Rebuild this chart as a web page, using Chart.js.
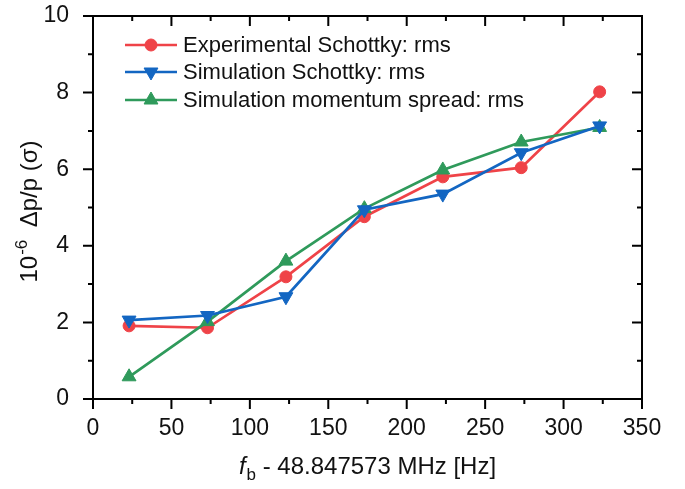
<!DOCTYPE html>
<html>
<head>
<meta charset="utf-8">
<script src="https://cdn.jsdelivr.net/npm/chart.js@4.4.1/dist/chart.umd.min.js"></script>
<style>
  html, body { margin: 0; padding: 0; background: #fff; }
  #wrap { width: 685px; height: 489px; }
</style>
</head>
<body>
<div id="wrap"><canvas id="chart"></canvas></div>
<script>
// frequency offset (Hz)
const freq = [23, 73, 123, 173, 223, 273, 323];
// 10^-6 dp/p, rms
const expSchottky = [1.91, 1.86, 3.19, 4.76, 5.80, 6.04, 8.02];
const simSchottky = [2.06, 2.18, 2.67, 4.94, 5.35, 6.43, 7.13];
const simMomentum = [0.58, 2.02, 3.60, 4.97, 5.98, 6.71, 7.09];

const seriesNames = [
    'Experimental Schottky: rms',
    'Simulation Schottky: rms',
    'Simulation momentum spread: rms'
];
const xTicks = [0, 50, 100, 150, 200, 250, 300, 350];
const yTicks = [0, 2, 4, 6, 8, 10];

const FONT = '"Liberation Sans", Arial, sans-serif';
const RED = '#ef4348';
const BLUE = '#1366c2';
const GREEN = '#2f9a5b';

function pts(ys) {
    return freq.map((x, i) => ({ x: x, y: ys[i] }));
}

// box, ticks (major + minor), axis titles and legend
const framePlugin = {
    id: 'frame',
    afterDraw(chart) {
        const ctx = chart.ctx;
        const a = chart.chartArea;
        const xs = chart.scales.x;
        const ys = chart.scales.y;
        ctx.save();
        ctx.strokeStyle = '#000';
        ctx.lineWidth = 2;
        ctx.strokeRect(a.left, a.top, a.right - a.left, a.bottom - a.top);

        ctx.beginPath();
        for (let i = 0; i < xTicks.length; i++) {
            const px = xs.getPixelForValue(xTicks[i]);
            ctx.moveTo(px, a.bottom); ctx.lineTo(px, a.bottom + 10);
            ctx.moveTo(px, a.top); ctx.lineTo(px, a.top + 10);
            if (i < xTicks.length - 1) {
                const mx = xs.getPixelForValue((xTicks[i] + xTicks[i + 1]) / 2);
                ctx.moveTo(mx, a.bottom); ctx.lineTo(mx, a.bottom + 5);
                ctx.moveTo(mx, a.top); ctx.lineTo(mx, a.top + 5);
            }
        }
        for (let i = 0; i < yTicks.length; i++) {
            const py = ys.getPixelForValue(yTicks[i]);
            ctx.moveTo(a.left, py); ctx.lineTo(a.left - 10, py);
            ctx.moveTo(a.right, py); ctx.lineTo(a.right - 10, py);
            if (i < yTicks.length - 1) {
                const my = ys.getPixelForValue((yTicks[i] + yTicks[i + 1]) / 2);
                ctx.moveTo(a.left, my); ctx.lineTo(a.left - 5, my);
                ctx.moveTo(a.right, my); ctx.lineTo(a.right - 5, my);
            }
        }
        ctx.stroke();

        // x title: f_b - 48.847573 MHz [Hz]
        ctx.fillStyle = '#111';
        ctx.textBaseline = 'alphabetic';
        const fItal = 'italic 24px ' + FONT;
        const fNorm = '24px ' + FONT;
        const fSmall = '17px ' + FONT;
        const rest = ' - 48.847573 MHz [Hz]';
        ctx.font = fItal; const wf = ctx.measureText('f').width;
        ctx.font = fSmall; const wb = ctx.measureText('b').width;
        ctx.font = fNorm; const wr = ctx.measureText(rest).width;
        let x0 = (a.left + a.right) / 2 - (wf + wb + 1 + wr) / 2;
        const by = 474;
        ctx.textAlign = 'left';
        ctx.font = fItal; ctx.fillText('f', x0, by);
        ctx.font = fSmall; ctx.fillText('b', x0 + wf + 1, by + 6);
        ctx.font = fNorm; ctx.fillText(rest, x0 + wf + wb + 1, by);

        // y title: 10^-6 Δp/p (σ)
        ctx.save();
        ctx.translate(37, (a.top + a.bottom) / 2 + 4);
        ctx.rotate(-Math.PI / 2);
        const p1 = '10', p2 = '-6', p3 = '  Δp/p (σ)';
        ctx.font = fNorm; const w1 = ctx.measureText(p1).width; const w3 = ctx.measureText(p3).width;
        ctx.font = fSmall; const w2 = ctx.measureText(p2).width;
        let t0 = -(w1 + w2 + w3) / 2;
        ctx.font = fNorm; ctx.fillText(p1, t0, 0);
        ctx.font = fSmall; ctx.fillText(p2, t0 + w1 + 1, -10);
        ctx.font = fNorm; ctx.fillText(p3, t0 + w1 + w2, 0);
        ctx.restore();

        // legend
        const rowY = [45, 72, 100];
        chart.data.datasets.forEach((ds, i) => {
            const y = rowY[i];
            ctx.strokeStyle = ds.borderColor;
            ctx.lineWidth = 2.5;
            ctx.beginPath();
            ctx.moveTo(125, y); ctx.lineTo(177, y);
            ctx.stroke();
            ctx.fillStyle = ds.backgroundColor;
            ctx.strokeStyle = ds.backgroundColor;
            ctx.lineWidth = 1;
            Chart.helpers.drawPoint(ctx, {
                pointStyle: ds.pointStyle,
                rotation: ds.pointRotation || 0,
                radius: ds.pointRadius,
                borderWidth: 1
            }, 151, y);
            ctx.fillStyle = '#111';
            ctx.font = '22px ' + FONT;
            ctx.textAlign = 'left';
            ctx.textBaseline = 'middle';
            ctx.fillText(ds.label, 183, y + 1);
        });
        ctx.restore();
    }
};

new Chart(document.getElementById('chart'), {
    type: 'line',
    data: {
        datasets: [{
            label: seriesNames[0],
            data: pts(expSchottky),
            borderColor: RED,
            backgroundColor: RED,
            pointStyle: 'circle',
            pointRadius: 6,
            order: 3
        }, {
            label: seriesNames[1],
            data: pts(simSchottky),
            borderColor: BLUE,
            backgroundColor: BLUE,
            pointStyle: 'triangle',
            pointRotation: 180,
            pointRadius: 8,
            order: 1
        }, {
            label: seriesNames[2],
            data: pts(simMomentum),
            borderColor: GREEN,
            backgroundColor: GREEN,
            pointStyle: 'triangle',
            pointRadius: 8,
            order: 2
        }]
    },
    options: {
        responsive: true,
        maintainAspectRatio: false,
        animation: false,
        layout: { padding: { left: 0, top: 16, right: 43, bottom: 0 } },
        elements: {
            line: { borderWidth: 2.7, tension: 0 },
            point: { borderWidth: 1, borderColor: '#fff', hoverRadius: 6 }
        },
        plugins: {
            legend: { display: false },
            tooltip: { enabled: false }
        },
        scales: {
            x: {
                type: 'linear',
                min: 0, max: 350,
                afterBuildTicks: s => { s.ticks = xTicks.map(v => ({ value: v })); },
                afterFit: s => { s.height = 90; s.paddingLeft = 0; s.paddingRight = 0; },
                grid: { display: false, drawTicks: false, tickLength: 0 },
                border: { display: false },
                ticks: { color: '#111', padding: 16, font: { family: FONT, size: 23 } }
            },
            y: {
                type: 'linear',
                min: 0, max: 10,
                afterBuildTicks: s => { s.ticks = yTicks.map(v => ({ value: v })); },
                afterFit: s => { s.width = 93; s.paddingTop = 0; s.paddingBottom = 0; },
                grid: { display: false, drawTicks: false, tickLength: 0 },
                border: { display: false },
                ticks: { color: '#111', padding: 24, font: { family: FONT, size: 23 } }
            }
        }
    },
    plugins: [framePlugin]
});
</script>
</body>
</html>
